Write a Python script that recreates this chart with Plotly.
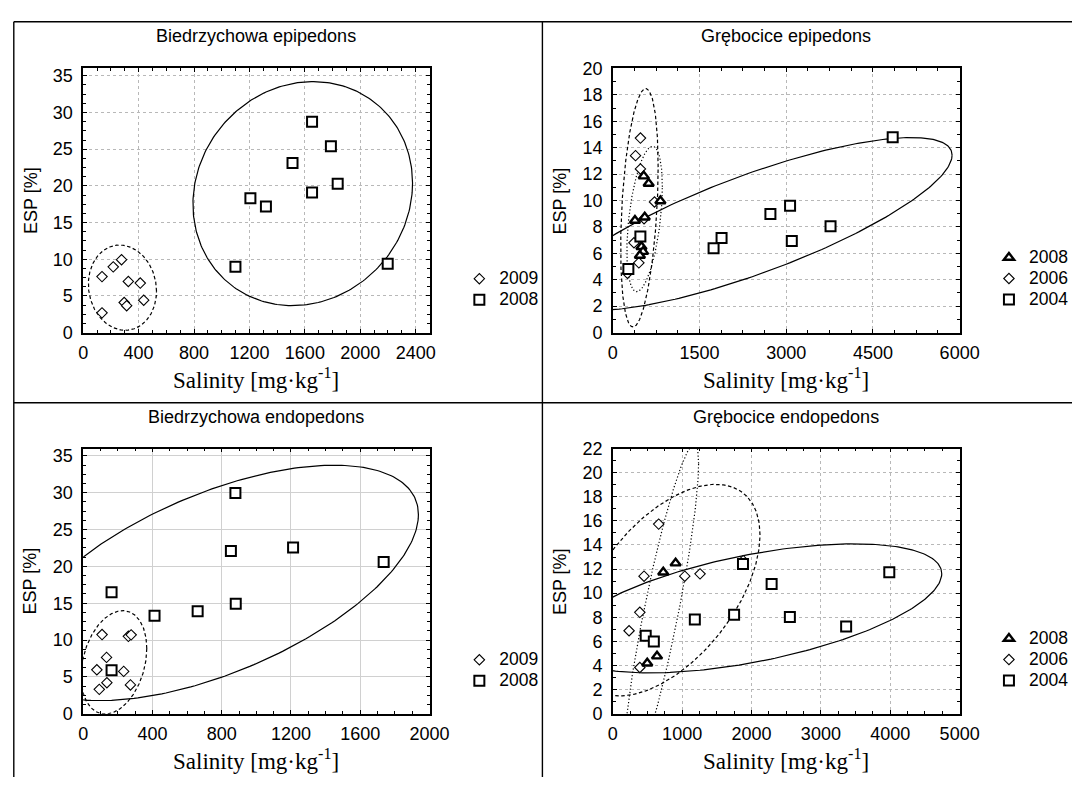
import numpy as np
import plotly.graph_objects as go

W, H = 1092, 787

# ---------------- data ----------------
# Panel 1: Biedrzychowa epipedons
p1_2009_x = [136, 217, 277, 326, 412, 437, 296, 314, 136]
p1_2009_y = [7.63, 8.96, 9.93, 6.97, 6.75, 4.41, 4.10, 3.66, 2.69]
p1_2008_x = [1652, 1788, 1511, 1837, 1652, 1207, 1319, 1099, 2198]
p1_2008_y = [28.73, 25.4, 23.1, 20.3, 19.1, 18.3, 17.2, 8.96, 9.4]

# Panel 2: Grębocice epipedons
p2_2008_x = [536, 621, 824, 384, 553, 496, 524, 469]
p2_2008_y = [11.85, 11.29, 9.96, 8.49, 8.74, 6.50, 6.13, 5.84]
p2_2006_x = [479, 394, 479, 722, 541, 367, 451, 254]
p2_2006_y = [14.73, 13.40, 12.39, 9.89, 8.62, 6.80, 5.28, 4.49]
p2_2004_x = [4842, 3067, 2727, 3767, 3097, 1882, 1744, 478, 270]
p2_2004_y = [14.8, 9.6, 8.98, 8.05, 6.94, 7.16, 6.38, 7.27, 4.81]

# Panel 3: Biedrzychowa endopedons
p3_2009_x = [109, 261, 277, 135, 79, 234, 137, 93, 273]
p3_2009_y = [10.74, 10.5, 10.7, 7.64, 5.96, 5.74, 4.2, 3.3, 3.9]
p3_2008_x = [879, 1212, 853, 1735, 164, 881, 661, 412, 164]
p3_2008_y = [29.96, 22.58, 22.1, 20.6, 16.5, 14.94, 13.9, 13.3, 5.88]

# Panel 4: Grębocice endopedons
p4_2008_x = [906, 728, 638, 497]
p4_2008_y = [12.49, 11.73, 4.77, 4.18]
p4_2006_x = [662, 451, 1038, 1258, 390, 235, 390, 1880]
p4_2006_y = [15.73, 11.41, 11.41, 11.6, 8.41, 6.88, 3.83, 12.7]
p4_2004_x = [1877, 2290, 1749, 1183, 2553, 475, 592, 3364, 3986]
p4_2004_y = [12.42, 10.75, 8.2, 7.82, 8.02, 6.47, 5.99, 7.23, 11.73]

titles = ["Biedrzychowa epipedons", "Grębocice epipedons",
          "Biedrzychowa endopedons", "Grębocice endopedons"]
x_title = "Salinity [mg·kg<sup>-1</sup>]"
y_title = "ESP [%]"

# two-sided 97.5% Student t quantiles by degrees of freedom (normal 95% ellipse)
T975 = {3: 3.182, 7: 2.365, 8: 2.306}


def ellipse(xs, ys, npts=300):
    x = np.asarray(xs, float)
    y = np.asarray(ys, float)
    cov = np.cov(x, y)
    L = np.linalg.cholesky(cov)
    k = T975[len(x) - 1]
    t = np.linspace(0, 2 * np.pi, npts)
    pts = k * (L @ np.vstack([np.cos(t), np.sin(t)]))
    return x.mean() + pts[0], y.mean() + pts[1]


SANS = "Liberation Sans, Arial, sans-serif"
SERIF = "Liberation Serif, Times New Roman, serif"

fig = go.Figure()

DASH = "3.5px,2.5px"
DOT = "1.2px,2.2px"

STY = {
    "sq": dict(symbol="square", size=10, color="white", line=dict(color="black", width=2)),
    "di": dict(symbol="diamond", size=8, color="white", line=dict(color="black", width=1.1)),
    "tr": dict(symbol="triangle-up", size=9, color="white", line=dict(color="black", width=2.4)),
}

panels = [
    ("x", "y", "legend", [
        ("2009", p1_2009_x, p1_2009_y, "di", DASH, 1),
        ("2008", p1_2008_x, p1_2008_y, "sq", "solid", 2),
    ]),
    ("x2", "y2", "legend2", [
        ("2006", p2_2006_x, p2_2006_y, "di", DASH, 2),
        ("2008", p2_2008_x, p2_2008_y, "tr", DOT, 1),
        ("2004", p2_2004_x, p2_2004_y, "sq", "solid", 3),
    ]),
    ("x3", "y3", "legend3", [
        ("2009", p3_2009_x, p3_2009_y, "di", DASH, 1),
        ("2008", p3_2008_x, p3_2008_y, "sq", "solid", 2),
    ]),
    ("x4", "y4", "legend4", [
        ("2006", p4_2006_x, p4_2006_y, "di", DASH, 2),
        ("2008", p4_2008_x, p4_2008_y, "tr", DOT, 1),
        ("2004", p4_2004_x, p4_2004_y, "sq", "solid", 3),
    ]),
]

# ellipses first
for xa, ya, lg, series in panels:
    for name, xs, ys, st, dash, rank in series:
        ex, ey = ellipse(xs, ys)
        fig.add_trace(go.Scatter(x=ex, y=ey, mode="lines", xaxis=xa, yaxis=ya,
                                 line=dict(color="black", width=1.2, dash=dash),
                                 showlegend=False, hoverinfo="skip"))
# markers
for xa, ya, lg, series in panels:
    for name, xs, ys, st, dash, rank in series:
        fig.add_trace(go.Scatter(x=xs, y=ys, mode="markers",
                                 name="<span style='font-size:17.5px'>%s</span>" % name,
                                 xaxis=xa, yaxis=ya,
                                 marker=STY[st], legend=lg, legendrank=rank, cliponaxis=False))


def px_x(p):
    return p / W


def px_y(p):
    return 1 - p / H


def axis(domain, rng, dtick, mdtick, anchor, gdash, gcol, standoff):
    return dict(domain=domain, range=rng, anchor=anchor, tickmode="linear", tick0=0, dtick=dtick,
                showline=True, linecolor="black", linewidth=1.5, mirror="allticks",
                ticks="inside", ticklen=4, tickwidth=1, tickcolor="black",
                showgrid=True, gridcolor=gcol, gridwidth=1, griddash=gdash, zeroline=False,
                tickfont=dict(family=SANS, size=18, color="black"), ticklabelstandoff=standoff,
                minor=dict(dtick=mdtick, tick0=0, ticks="inside", ticklen=3, tickwidth=1,
                           tickcolor="black", showgrid=False),
                fixedrange=True)


LX = [px_x(80), px_x(434.5)]
RX = [px_x(622), px_x(977)]
TY = [px_y(331), px_y(60)]
BY = [px_y(722), px_y(450)]

GC = "#b8b8b8"
XS, YS = 3, 5
fig.update_layout(
    xaxis=axis(LX, [0, 2500], 400, 100, "y", "dot", GC, XS),
    yaxis=axis(TY, [0, 36], 5, 1.25, "x", "dot", GC, YS),
    xaxis2=axis(RX, [0, 6000], 1500, 375, "y2", "dot", GC, XS),
    yaxis2=axis(TY, [0, 20], 2, 1, "x2", "dot", GC, YS),
    xaxis3=axis(LX, [0, 2000], 400, 100, "y3", "solid", "#d0d0d0", XS),
    yaxis3=axis(BY, [0, 36], 5, 1.25, "x3", "solid", "#d0d0d0", YS),
    xaxis4=axis(RX, [0, 5000], 1000, 250, "y4", "dot", GC, XS),
    yaxis4=axis(BY, [0, 22], 2, 1, "x4", "dot", GC, YS),
)

legfont = dict(family=SANS, size=13.85, color="black")


def leg(left_px, mid_px):
    return dict(x=px_x(left_px), y=px_y(mid_px), xanchor="left", yanchor="middle",
                xref="paper", yref="paper", font=legfont, bgcolor="rgba(0,0,0,0)",
                borderwidth=0, tracegroupgap=0, itemwidth=30, traceorder="normal")


fig.update_layout(
    legend=leg(465, 287),
    legend2=leg(1007, 276),
    legend3=leg(465, 678),
    legend4=leg(1007, 667),
)

ann = []
centers = [(257, 27), (799, 27), (257, 418), (799, 418)]
for (cx, cy), t in zip(centers, titles):
    ann.append(dict(x=px_x(cx), y=px_y(cy), xref="paper", yref="paper", text=t, showarrow=False,
                    xanchor="center", yanchor="middle", font=dict(family=SANS, size=18, color="black")))
for cx, cy in [(257, 378), (799, 378), (257, 769), (799, 769)]:
    ann.append(dict(x=px_x(cx), y=px_y(cy), xref="paper", yref="paper", text=x_title, showarrow=False,
                    xanchor="center", yanchor="middle", font=dict(family=SERIF, size=23, color="black")))
for cx, cy in [(26, 195.5), (568, 195.5), (26, 586), (568, 586)]:
    ann.append(dict(x=px_x(cx), y=px_y(cy), xref="paper", yref="paper", text=y_title, showarrow=False,
                    textangle=-90, xanchor="center", yanchor="middle",
                    font=dict(family=SANS, size=18, color="black")))

shapes = []
line = dict(color="black", width=1.4)
shapes.append(dict(type="line", xref="paper", yref="paper", x0=px_x(9), x1=1, y0=px_y(12), y1=px_y(12), line=line))
shapes.append(dict(type="line", xref="paper", yref="paper", x0=px_x(9), x1=px_x(9), y0=px_y(12), y1=0, line=line))
shapes.append(dict(type="line", xref="paper", yref="paper", x0=px_x(550), x1=px_x(550), y0=px_y(12), y1=0, line=line))
shapes.append(dict(type="line", xref="paper", yref="paper", x0=px_x(9), x1=1, y0=px_y(403), y1=px_y(403), line=line))

fig.update_layout(
    width=W, height=H, margin=dict(l=0, r=0, t=0, b=0),
    paper_bgcolor="white", plot_bgcolor="white",
    annotations=ann, shapes=shapes, showlegend=True,
)

fig.write_html("out.html", config={"displayModeBar": False},
               post_script="document.body.style.margin='0';document.body.style.overflow='hidden';")
